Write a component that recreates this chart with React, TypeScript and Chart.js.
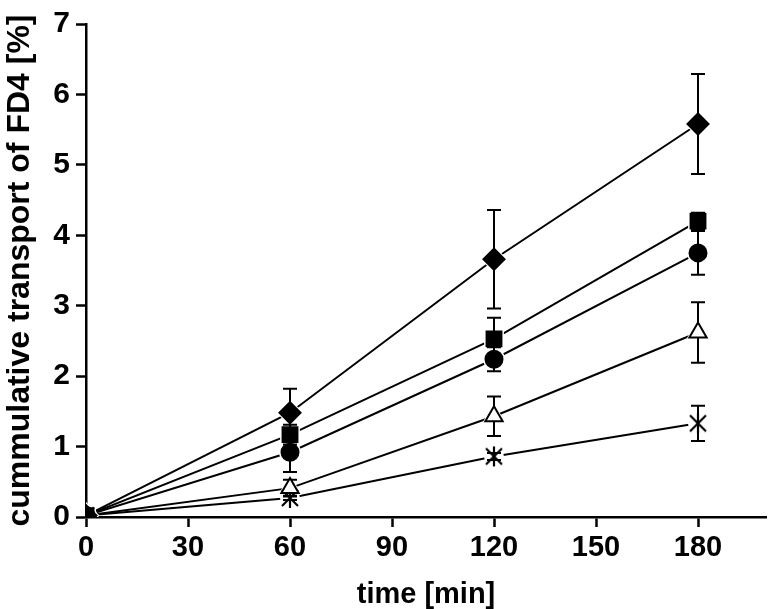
import React, { useEffect, useRef } from "react";
import { Chart, registerables } from "chart.js";

Chart.register(...registerables);

const times = [0, 60, 120, 180];
const diamondMean = [0.02, 1.48, 3.66, 5.58];
const diamondErr = [0, 0.34, 0.7, 0.71];
const squareMean = [0.02, 1.17, 2.53, 4.2];
const squareErr = [0, 0.14, 0.3, 0.12];
const circleMean = [0.02, 0.92, 2.24, 3.75];
const circleErr = [0, 0.28, 0.17, 0.31];
const triangleMean = [0.02, 0.41, 1.43, 2.62];
const triangleErr = [0, 0.12, 0.28, 0.43];
const asteriskMean = [0.02, 0.27, 0.86, 1.33];
const asteriskErr = [0, 0.03, 0.05, 0.25];

const xTitle = "time [min]";
const yTitle = "cummulative transport of FD4 [%]";

const FONT = "'Liberation Sans', Arial, Helvetica, sans-serif";

function makeAsterisk(): HTMLCanvasElement {
  const c = document.createElement("canvas");
  c.width = 22;
  c.height = 22;
  const ctx = c.getContext("2d")!;
  ctx.strokeStyle = "#000";
  ctx.lineWidth = 2.2;
  ctx.beginPath();
  ctx.moveTo(3, 3);
  ctx.lineTo(19, 19);
  ctx.moveTo(19, 3);
  ctx.lineTo(3, 19);
  ctx.moveTo(11, 1);
  ctx.lineTo(11, 21);
  ctx.stroke();
  return c;
}

export default function App() {
  const ref = useRef<HTMLCanvasElement | null>(null);
  useEffect(() => {
    if (!ref.current) return;
    const asterisk = makeAsterisk();
    const series = [
      { mean: diamondMean, err: diamondErr, style: "rectRot", r: 10.5, bg: "#000", halo: "rectRot", hr: 13.5 },
      { mean: squareMean, err: squareErr, style: "rect", r: 10.5, bg: "#000", halo: "rect", hr: 14 },
      { mean: circleMean, err: circleErr, style: "circle", r: 8.5, bg: "#000", halo: "circle", hr: 11 },
      { mean: triangleMean, err: triangleErr, style: "triangle", r: 10, bg: "#fff", halo: "triangle", hr: 13.5 },
      { mean: asteriskMean, err: asteriskErr, style: asterisk as any, r: 10, bg: "#000", halo: "circle", hr: 10 },
    ];
    const pts = (m: number[]) => times.map((t, i) => ({ x: t, y: m[i] }));
    const markers = series.map((s) => ({
      data: pts(s.mean),
      showLine: false,
      pointStyle: s.style,
      pointRadius: s.r,
      pointBackgroundColor: s.bg,
      pointBorderColor: "#000",
      pointBorderWidth: 2,
    }));
    const halos = series.map((s) => ({
      data: pts(s.mean),
      showLine: false,
      pointStyle: s.halo,
      pointRadius: s.hr,
      pointBackgroundColor: "#fff",
      pointBorderColor: "#fff",
      pointBorderWidth: 0,
    }));
    const lines = series.map((s) => ({
      data: pts(s.mean),
      showLine: true,
      borderColor: "#000",
      borderWidth: 2,
      pointRadius: 0,
      fill: false,
      tension: 0,
    }));

    const errPlugin = {
      id: "errbars",
      afterDatasetDraw(chart: any, args: any) {
        if (args.index !== 5) return;
        const ctx = chart.ctx;
        const xs = chart.scales.x;
        const ys = chart.scales.y;
        ctx.save();
        ctx.strokeStyle = "#000";
        ctx.lineWidth = 2;
        series.forEach((s) => {
          times.forEach((t, i) => {
            const e = s.err[i];
            if (!e) return;
            const px = xs.getPixelForValue(t);
            const top = ys.getPixelForValue(s.mean[i] + e);
            const bot = ys.getPixelForValue(s.mean[i] - e);
            ctx.beginPath();
            ctx.moveTo(px, top);
            ctx.lineTo(px, bot);
            ctx.moveTo(px - 7, top);
            ctx.lineTo(px + 7, top);
            ctx.moveTo(px - 7, bot);
            ctx.lineTo(px + 7, bot);
            ctx.stroke();
          });
        });
        ctx.restore();
      },
    };

    const chart = new Chart(ref.current, {
      type: "scatter",
      data: { datasets: [...markers, ...halos, ...lines] as any },
      options: {
        animation: false,
        responsive: false,
        events: [],
        layout: { autoPadding: false, padding: { top: 16, right: 4, left: 0, bottom: 0 } },
        plugins: { legend: { display: false }, tooltip: { enabled: false } },
        scales: {
          x: {
            type: "linear",
            min: 0,
            max: 200,
            afterFit: (s: any) => {
              s.height = 92;
            },
            ticks: {
              stepSize: 30,
              includeBounds: false,
              color: "#000",
              padding: 4,
              font: { family: FONT, size: 29, weight: "bold" },
            },
            grid: {
              drawOnChartArea: false,
              drawTicks: true,
              tickLength: 10,
              tickWidth: 2.5,
              color: "#000",
            },
            border: { display: true, width: 2.5, color: "#000" },
            title: {
              display: true,
              text: xTitle,
              color: "#000",
              font: { family: FONT, size: 29, weight: "bold" },
              padding: { top: 0, bottom: -3 },
            },
          },
          y: {
            type: "linear",
            min: 0,
            max: 7,
            afterFit: (s: any) => {
              s.width = 86;
            },
            ticks: {
              stepSize: 1,
              color: "#000",
              padding: 6,
              font: { family: FONT, size: 30, weight: "bold" },
            },
            grid: {
              drawOnChartArea: false,
              drawTicks: true,
              tickLength: 10,
              tickWidth: 2.5,
              color: "#000",
            },
            border: { display: true, width: 2.5, color: "#000" },
            title: {
              display: true,
              text: yTitle,
              color: "#000",
              font: { family: FONT, size: 32, weight: "bold" },
              padding: { top: 1, bottom: 0 },
            },
          },
        },
      },
      plugins: [errPlugin],
    });
    return () => chart.destroy();
  }, []);
  return (
    <canvas
      ref={ref}
      width={770}
      height={609}
      style={{ position: "fixed", left: 0, top: 0, display: "block", background: "#fff" }}
    />
  );
}
